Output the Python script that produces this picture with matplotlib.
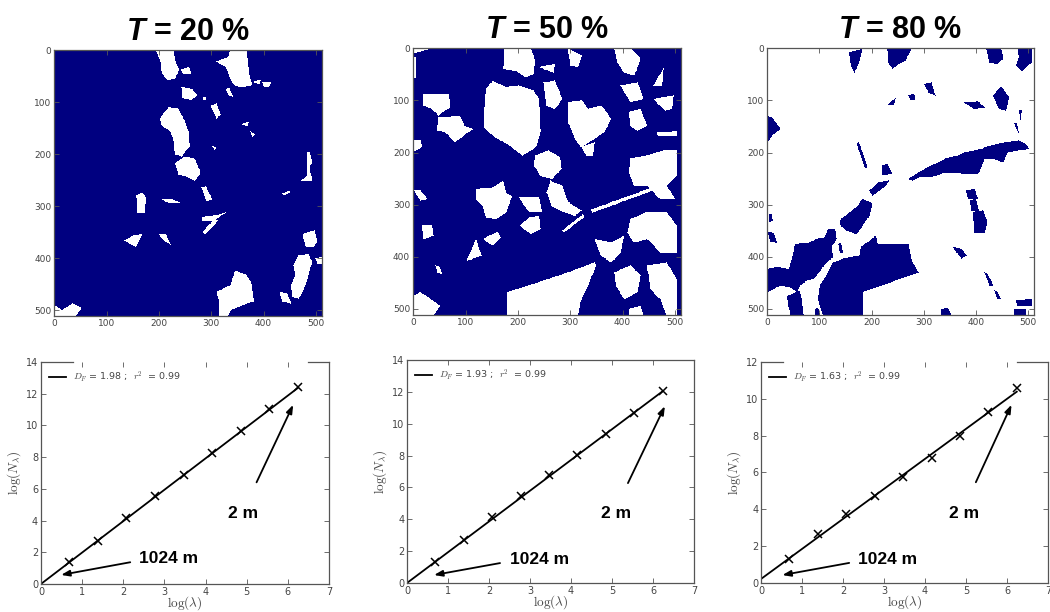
import numpy as np
import matplotlib
matplotlib.use("Agg")
import matplotlib.pyplot as plt
from matplotlib.path import Path
from matplotlib.colors import ListedColormap
from matplotlib.font_manager import FontProperties

plt.rcParams['mathtext.fontset'] = 'cm'
plt.rcParams['mathtext.it'] = 'Liberation Sans:italic:bold'
plt.rcParams['mathtext.rm'] = 'Liberation Sans:bold'
plt.rcParams['mathtext.bf'] = 'Liberation Sans:bold'
plt.rcParams['mathtext.sf'] = 'Liberation Sans:bold'

# ---------------- data ----------------
titles = ["20", "50", "80"]
image_ticks = [0, 100, 200, 300, 400, 500]
grid_size = 512

# white patches on a navy background (T = 20 %)
panel20_white = [
    [(194, 0), (228, 0), (231, 19), (238, 38), (231, 54), (216, 57), (206, 45), (203, 22)],
    [(241, 38), (257, 32), (262, 46), (247, 45)],
    [(310, 22), (333, 13), (336, 0), (367, 0), (370, 25), (373, 51), (379, 67), (361, 71), (345, 69), (335, 51), (328, 32)],
    [(379, 61), (395, 56), (392, 65)],
    [(398, 62), (415, 61), (410, 71), (401, 70)],
    [(328, 75), (335, 73), (342, 90), (333, 86)],
    [(243, 71), (263, 75), (274, 86), (262, 96), (245, 92)],
    [(284, 91), (289, 91), (289, 96), (284, 96)],
    [(298, 107), (310, 102), (318, 124), (310, 131)],
    [(202, 131), (218, 110), (235, 111), (250, 137), (257, 159), (258, 185), (244, 204), (231, 201), (228, 172), (222, 156), (206, 146)],
    [(231, 217), (250, 204), (269, 209), (279, 236), (269, 252), (250, 242), (237, 239), (234, 226)],
    [(358, 142), (371, 138), (370, 147)],
    [(374, 154), (383, 162), (379, 167)],
    [(300, 184), (309, 186), (307, 192)],
    [(281, 264), (290, 262), (301, 287), (291, 290)],
    [(483, 197), (489, 197), (492, 217), (488, 223), (492, 252), (470, 252), (483, 242), (483, 223)],
    [(436, 276), (450, 270), (450, 274), (439, 280)],
    [(157, 280), (168, 274), (175, 283), (172, 312), (159, 312)],
    [(206, 287), (225, 286), (241, 294), (219, 294)],
    [(283, 321), (313, 317), (329, 311), (306, 328), (283, 329)],
    [(283, 350), (306, 325), (313, 328), (288, 355)],
    [(134, 366), (150, 357), (169, 354), (162, 366), (156, 379)],
    [(200, 355), (213, 354), (222, 374), (213, 368)],
    [(474, 354), (497, 347), (503, 369), (494, 379), (481, 379)],
    [(467, 395), (486, 392), (492, 408), (486, 433), (477, 459), (467, 478), (455, 475), (452, 452), (461, 433), (457, 414)],
    [(430, 465), (445, 468), (452, 487), (436, 484)],
    [(310, 465), (338, 452), (345, 424), (367, 433), (376, 446), (382, 484), (367, 487), (338, 500), (332, 512), (316, 512), (316, 484)],
    [(0, 490), (15, 500), (35, 487), (52, 496), (40, 512), (0, 512)],
    [(499, 401), (512, 398), (512, 410), (503, 411)],
]

# white patches on a navy background (T = 50 %)
panel50_white = [
    [(0, 0), (40, 0), (0, 12)],
    [(0, 20), (5, 20), (4, 58), (0, 58)],
    [(174, 0), (224, 0), (233, 25), (230, 51), (215, 57), (196, 45), (172, 41)],
    [(152, 64), (177, 76), (202, 73), (230, 83), (240, 99), (243, 162), (234, 191), (209, 207), (184, 188), (152, 169), (136, 153), (136, 118), (139, 80)],
    [(233, 207), (258, 197), (280, 210), (283, 232), (265, 252), (243, 246), (231, 226)],
    [(262, 255), (284, 264), (296, 296), (321, 312), (309, 322), (287, 315), (264, 303), (255, 277)],
    [(20, 89), (68, 89), (70, 115), (48, 130), (36, 118), (20, 111)],
    [(48, 134), (89, 131), (98, 150), (114, 156), (96, 169), (80, 181), (61, 162), (45, 159)],
    [(0, 178), (14, 178), (17, 191), (0, 199)],
    [(120, 271), (152, 268), (171, 255), (177, 278), (189, 284), (177, 316), (158, 328), (139, 325), (132, 302), (120, 290)],
    [(202, 287), (240, 287), (246, 315), (221, 315)],
    [(205, 341), (221, 325), (240, 322), (243, 347), (224, 357)],
    [(284, 351), (324, 319), (327, 324), (289, 353)],
    [(340, 310), (465, 265), (467, 270), (342, 316)],
    [(133, 366), (161, 353), (167, 363), (152, 379)],
    [(17, 341), (36, 341), (39, 360), (20, 366)],
    [(1, 274), (14, 274), (27, 290), (14, 293)],
    [(102, 408), (120, 366), (130, 398)],
    [(42, 417), (50, 420), (55, 433), (46, 430)],
    [(0, 475), (14, 468), (33, 481), (51, 494), (39, 512), (0, 512)],
    [(180, 468), (258, 443), (321, 421), (346, 411), (349, 417), (334, 455), (321, 481), (315, 512), (180, 512)],
    [(296, 3), (322, 16), (315, 38), (300, 35)],
    [(240, 38), (271, 32), (268, 48)],
    [(249, 67), (271, 64), (284, 99), (271, 118), (255, 112)],
    [(296, 105), (322, 102), (334, 118), (359, 111), (378, 137), (365, 162), (346, 175), (321, 191), (309, 175), (296, 143)],
    [(384, 3), (415, 0), (434, 22), (422, 54), (403, 48), (390, 29)],
    [(396, 73), (428, 67), (440, 99), (415, 105)],
    [(412, 124), (434, 118), (447, 150), (428, 159), (415, 150)],
    [(459, 73), (478, 41), (475, 73)],
    [(459, 99), (497, 92), (494, 118), (481, 121)],
    [(465, 162), (503, 161), (503, 169), (468, 169)],
    [(415, 213), (447, 207), (478, 197), (503, 197), (503, 245), (484, 264), (500, 290), (472, 290), (447, 264), (422, 264), (412, 239)],
    [(321, 191), (346, 182), (343, 207), (331, 207)],
    [(415, 328), (447, 315), (484, 315), (503, 341), (503, 392), (472, 392), (447, 366), (422, 373), (409, 354)],
    [(346, 366), (378, 373), (403, 360), (396, 392), (378, 411), (359, 398)],
    [(384, 430), (415, 417), (434, 436), (428, 468), (403, 481), (387, 455)],
    [(447, 417), (484, 411), (503, 443), (503, 512), (484, 512), (472, 481), (453, 462)],
    [(412, 500), (434, 494), (440, 512), (412, 512)],
]

# navy patches on a white background (T = 80 %)
panel80_navy = [
    [(156, 10), (182, 3), (175, 28), (167, 48), (160, 35)],
    [(230, 0), (277, 0), (264, 25), (252, 32), (239, 41), (231, 29)],
    [(418, 0), (447, 0), (450, 22), (440, 32), (425, 29)],
    [(478, 0), (505, 0), (505, 29), (487, 45), (475, 35), (481, 19)],
    [(299, 70), (314, 67), (321, 92), (308, 86)],
    [(270, 92), (280, 88), (283, 99), (275, 102)],
    [(230, 110), (245, 97), (242, 110)],
    [(431, 92), (447, 76), (462, 95), (456, 121), (443, 118)],
    [(377, 106), (403, 104), (415, 115), (396, 118)],
    [(0, 131), (9, 134), (25, 156), (9, 169), (0, 181)],
    [(481, 121), (487, 119), (484, 137)],
    [(472, 146), (477, 146), (481, 166)],
    [(170, 183), (175, 182), (192, 229), (187, 231)],
    [(219, 226), (230, 223), (238, 242), (220, 244)],
    [(270, 252), (289, 239), (314, 226), (340, 213), (365, 207), (377, 201), (409, 194), (428, 188), (453, 182), (481, 178), (494, 185), (500, 194), (478, 197), (459, 201), (450, 220), (434, 213), (415, 213), (403, 242), (377, 242), (358, 239), (340, 239), (314, 248), (292, 248), (277, 255)],
    [(195, 274), (214, 257), (233, 255), (226, 265), (214, 274), (201, 283)],
    [(141, 328), (170, 306), (182, 290), (201, 299), (195, 322), (182, 341), (170, 357), (151, 350), (138, 338)],
    [(380, 274), (396, 271), (403, 290), (384, 289)],
    [(387, 293), (399, 290), (405, 315), (390, 312)],
    [(393, 315), (412, 312), (421, 334), (415, 354), (396, 354)],
    [(355, 382), (371, 385), (381, 398), (371, 404)],
    [(415, 430), (421, 433), (431, 455), (425, 455)],
    [(434, 465), (440, 468), (447, 481), (440, 481)],
    [(475, 484), (505, 481), (505, 494), (478, 494)],
    [(472, 500), (494, 500), (494, 512), (472, 512)],
    [(0, 352), (12, 355), (19, 373), (6, 372)],
    [(3, 320), (9, 318), (10, 332), (4, 334)],
    [(0, 424), (19, 420), (41, 424), (50, 392), (53, 376), (82, 373), (94, 366), (110, 363), (116, 347), (129, 347), (132, 366), (123, 382), (126, 401), (113, 411), (101, 427), (88, 443), (75, 446), (63, 455), (57, 468), (44, 459), (25, 455), (0, 468)],
    [(38, 475), (63, 465), (69, 512), (44, 512)],
    [(179, 382), (208, 360), (211, 376), (270, 376), (277, 411), (289, 430), (182, 468), (182, 512), (107, 512), (97, 481), (101, 455), (113, 436), (126, 411), (145, 404), (176, 398)],
    [(136, 376), (141, 374), (145, 392), (139, 392)],
    [(91, 500), (97, 498), (101, 512), (91, 512)],
    [(333, 500), (345, 498), (352, 512), (333, 512)],
]

# box-counting data
log_lambda = [0.693, 1.386, 2.079, 2.773, 3.466, 4.159, 4.852, 5.545, 6.238]
logN_20 = [1.37, 2.73, 4.16, 5.53, 6.89, 8.26, 9.64, 11.03, 12.42]
logN_50 = [1.34, 2.72, 4.12, 5.43, 6.77, 8.04, 9.34, 10.70, 12.06]
logN_80 = [1.30, 2.66, 3.76, 4.71, 5.76, 6.81, 8.00, 9.29, 10.59]
fit_DF = [1.98, 1.93, 1.63]
fit_intercept = [0.0, 0.0, 0.22]
fit_r2 = [0.99, 0.99, 0.99]
y_max = [14, 14, 12]

# annotation anchors (data coordinates)
arrow_2m_tail = [(5.24, 6.41), (5.39, 6.27), (5.24, 5.47)]
arrow_2m_head = [(6.13, 11.3), (6.29, 11.1), (6.11, 9.68)]
text_2m = [(4.91, 4.47), (5.11, 4.39), (4.96, 3.80)]
arrow_1024_tail = [(2.17, 1.37), (2.27, 1.25), (2.15, 1.09)]
arrow_1024_head = [(0.49, 0.57), (0.66, 0.50), (0.52, 0.43)]
text_1024 = [(3.10, 1.58), (3.24, 1.46), (3.08, 1.27)]
top_spine_left = [0.78, None, 0.54]
top_spine_right = [6.49, None, 6.24]

# ---------------- figure ----------------
NAVY = '#000080'
GRAY = '#555555'
fig = plt.figure(figsize=(10.5, 6.12), dpi=100)

img_rects = [[0.0514, 0.4837, 0.2552, 0.4346],
             [0.3933, 0.4853, 0.2552, 0.4363],
             [0.7305, 0.4853, 0.2543, 0.4363]]
plot_rects = [[0.0390, 0.0458, 0.2743, 0.3627],
              [0.3876, 0.0474, 0.2733, 0.3644],
              [0.7248, 0.0474, 0.2733, 0.3611]]

yy, xx = np.mgrid[0:grid_size, 0:grid_size]
pts = np.column_stack([xx.ravel(), yy.ravel()])


def rasterize(polys, base, fill):
    grid = np.full(grid_size * grid_size, base, dtype=float)
    for poly in polys:
        inside = Path(poly).contains_points(pts, radius=0.5)
        grid[inside] = fill
    return grid.reshape(grid_size, grid_size)


images = [rasterize(panel20_white, 1, 0),
          rasterize(panel50_white, 1, 0),
          rasterize(panel80_navy, 0, 1)]
cmap = ListedColormap(['white', NAVY])


def style_ticks(ax, size):
    ax.tick_params(direction='in', length=3.5, width=0.6, colors=GRAY,
                   labelcolor='#444444', labelsize=size, top=True, right=True, pad=2)
    for s in ax.spines.values():
        s.set_color(GRAY)
        s.set_linewidth(0.9)


for i in range(3):
    ax = fig.add_axes(img_rects[i])
    ax.imshow(images[i], cmap=cmap, vmin=0, vmax=1, interpolation='nearest',
              aspect='auto', extent=(-0.5, grid_size - 0.5, grid_size - 0.5, -0.5))
    ax.set_xticks(image_ticks)
    ax.set_yticks(image_ticks)
    style_ticks(ax, 6.5)
    ax.set_title(r'$\mathit{T}$ = ' + titles[i] + ' %', fontsize=22, fontweight='bold',
                 family='Liberation Sans', math_fontfamily='custom', pad=7)

series = [logN_20, logN_50, logN_80]
for i in range(3):
    ax = fig.add_axes(plot_rects[i])
    xfit = np.array([0.0, log_lambda[-1]])
    yfit = fit_intercept[i] + fit_DF[i] * xfit
    ax.plot(xfit, yfit, color='black', lw=1.3,
            label=r'$D_F$ = %.2f ;  $r^2$  = %.2f' % (fit_DF[i], fit_r2[i]))
    ax.plot(log_lambda, series[i], 'x', color='black', ms=6, mew=1.1)
    ax.set_xlim(0, 7)
    ax.set_ylim(0, y_max[i])
    ax.set_xticks(range(0, 8))
    ax.set_yticks(range(0, y_max[i] + 1, 2))
    style_ticks(ax, 7)
    ax.set_xlabel(r'$\log(\lambda)$', fontsize=9.5, color='#444444', labelpad=-1.5)
    ax.set_ylabel(r'$\log(N_\lambda)$', fontsize=9.5, color='#444444', labelpad=2)
    leg = ax.legend(loc='upper left', frameon=False, handlelength=1.8,
                    prop=FontProperties(size=6.8, math_fontfamily='cm'),
                    borderaxespad=0.4)
    for t in leg.get_texts():
        t.set_color('#444444')
    if top_spine_left[i] is not None:
        ax.spines['top'].set_bounds(top_spine_right[i], 7)
        ax.axhline(y_max[i], xmin=0, xmax=top_spine_left[i] / 7, color=GRAY, lw=0.9,
                   clip_on=False)
    ax.annotate('', xy=arrow_2m_head[i], xytext=arrow_2m_tail[i],
                arrowprops=dict(arrowstyle='-|>,head_length=0.5,head_width=0.18',
                                color='black', lw=1.3, shrinkA=0, shrinkB=0))
    ax.annotate('', xy=arrow_1024_head[i], xytext=arrow_1024_tail[i],
                arrowprops=dict(arrowstyle='-|>,head_length=0.5,head_width=0.18',
                                color='black', lw=1.3, shrinkA=0, shrinkB=0))
    ax.text(*text_2m[i], '2 m', fontsize=12.5, fontweight='bold', family='Liberation Sans',
            ha='center', va='center')
    ax.text(*text_1024[i], '1024 m', fontsize=12.5, fontweight='bold', family='Liberation Sans',
            ha='center', va='center')

fig.savefig('out.png', dpi=100)
